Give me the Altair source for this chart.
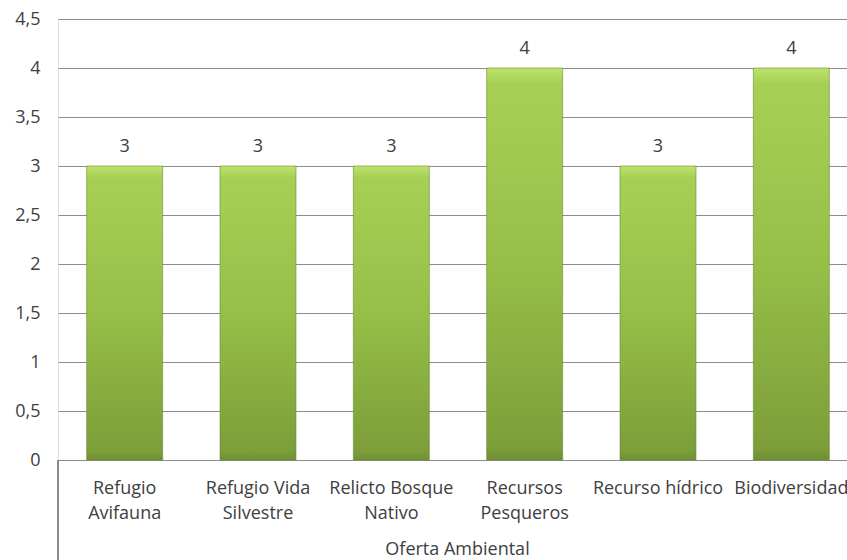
import altair as alt
import pandas as pd

# Oferta ambiental: puntuación por componente
categories = [
    "Refugio Avifauna",
    "Refugio Vida Silvestre",
    "Relicto Bosque Nativo",
    "Recursos Pesqueros",
    "Recurso hídrico",
    "Biodiversidad",
]
label_lines = [
    ["Refugio", "Avifauna"],
    ["Refugio Vida", "Silvestre"],
    ["Relicto Bosque", "Nativo"],
    ["Recursos", "Pesqueros"],
    ["Recurso hídrico"],
    ["Biodiversidad"],
]
values = [3, 3, 3, 4, 3, 4]
y_ticks = [0, 0.5, 1, 1.5, 2, 2.5, 3, 3.5, 4, 4.5]

df = pd.DataFrame({"categoria": categories, "valor": values, "lineas": label_lines})

FONT = "Open Sans"
FS = 18
TEXT = "#404040"
GRID = "#8c8c8c"

x_enc = alt.X(
    "categoria:N",
    sort=categories,
    scale=alt.Scale(range=[0, 800], paddingInner=0.43, paddingOuter=0.215),
    axis=alt.Axis(
        labels=False, ticks=False, domain=True, domainColor=GRID,
        title="Oferta Ambiental", titleFont=FONT, titleFontSize=FS,
        titleFontWeight="normal", titleColor=TEXT,
        titleBaseline="alphabetic", titlePadding=94, titleX=399,
    ),
)
y_scale = alt.Scale(domain=[0, 4.5], nice=False)

base = alt.Chart(df)

bars = base.mark_bar(
    color=alt.Gradient(
        gradient="linear",
        stops=[
            alt.GradientStop(color="#bde36c", offset=0),
            alt.GradientStop(color="#a6d055", offset=0.04),
            alt.GradientStop(color="#96bf48", offset=0.5),
            alt.GradientStop(color="#7c9e3a", offset=0.97),
            alt.GradientStop(color="#6e8f32", offset=1),
        ],
        x1=0, x2=0, y1=0, y2=1,
    ),
    stroke="#6d8c30",
    strokeWidth=1,
    strokeOpacity=0.6,
).encode(
    x=x_enc,
    y=alt.Y(
        "valor:Q",
        scale=y_scale,
        axis=alt.Axis(
            values=y_ticks, title=None, domain=False, ticks=False,
            grid=True, gridColor=GRID, gridWidth=1,
            labelExpr="replace(format(datum.value, '.1~f'), '.', ',')",
            labelFont=FONT, labelFontSize=FS, labelColor=TEXT, labelPadding=18,
        ),
    ),
)

value_labels = base.mark_text(
    font=FONT, fontSize=FS, color=TEXT, dy=-14, baseline="alphabetic"
).encode(
    x=alt.X("categoria:N", sort=categories),
    y=alt.Y("valor:Q", scale=y_scale),
    text="valor:Q",
)

cat_labels = base.mark_text(
    font=FONT, fontSize=FS, color=TEXT, baseline="alphabetic", lineHeight=25
).encode(
    x=alt.X("categoria:N", sort=categories),
    y=alt.value(475),
    text="lineas",
)

left_rule = alt.Chart(df).mark_rule(color=GRID, strokeWidth=1).encode(
    x=alt.value(0), y=alt.value(441), y2=alt.value(560)
)

chart = (
    alt.layer(bars, value_labels, cat_labels, left_rule)
    .properties(
        width=789,
        height=441,
        padding={"left": 58, "top": 19, "right": 0, "bottom": 100},
        autosize=alt.AutoSizeParams(type="none"),
    )
    .configure_view(stroke=None)
    .configure(background="white")
)

chart.save("out.html", embed_options={"renderer": "svg", "actions": False})
